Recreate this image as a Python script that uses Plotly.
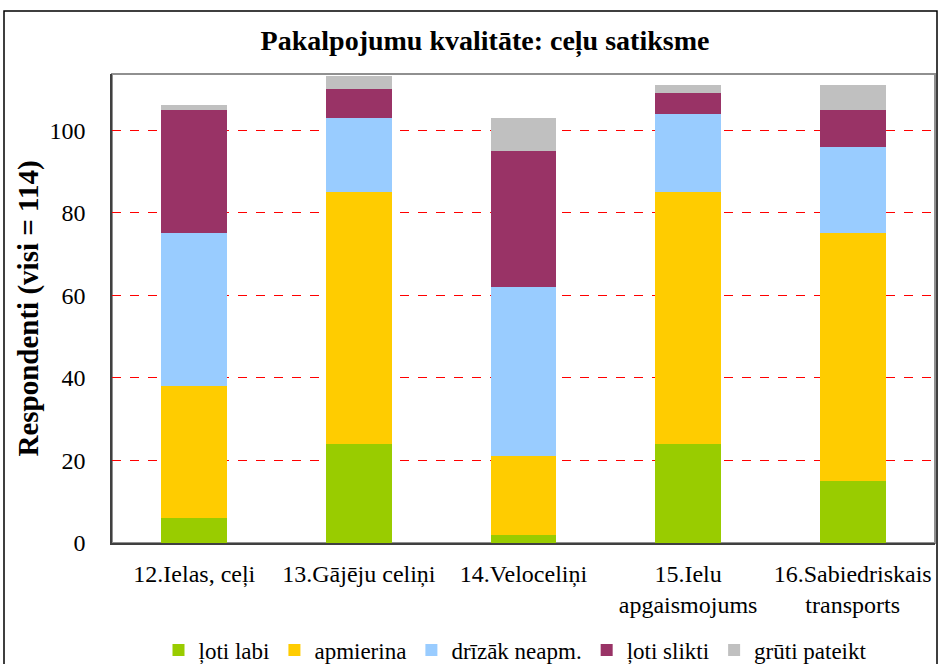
import plotly.graph_objects as go

categories = ["12.Ielas, ceļi", "13.Gājēju celiņi", "14.Veloceliņi",
              "15.Ielu<br>apgaismojums", "16.Sabiedriskais<br>transports"]
loti_labi = [6, 24, 2, 24, 15]
apmierina = [32, 61, 19, 61, 60]
drizak_neapm = [37, 18, 41, 19, 21]
loti_slikti = [30, 7, 33, 5, 9]
gruti_pateikt = [1, 3, 8, 2, 6]

series = [
    ("ļoti labi", loti_labi, "#99CC00"),
    ("apmierina", apmierina, "#FFCC00"),
    ("drīzāk neapm.", drizak_neapm, "#99CCFF"),
    ("ļoti slikti", loti_slikti, "#993366"),
    ("grūti pateikt", gruti_pateikt, "#C0C0C0"),
]

FONT = "Liberation Serif, Times New Roman, serif"

fig = go.Figure()
for name, vals, color in series:
    fig.add_trace(go.Bar(x=categories, y=vals, name=name,
                         marker=dict(color=color, line=dict(width=0)),
                         width=0.4))

L, R, T, B = 112, 3, 74, 121
W, H = 938, 664
pw = W - L - R
ph = H - T - B

def px_x(x):
    return (x - L) / pw

def px_y(y):
    return (H - B - y) / ph

fig.update_layout(
    width=W, height=H,
    margin=dict(l=L, r=R, t=T, b=B, autoexpand=False),
    barmode="stack",
    bargap=0.6,
    plot_bgcolor="white",
    paper_bgcolor="white",
    font=dict(family=FONT, size=24, color="black"),
    title=dict(text="<b>Pakalpojumu kvalitāte: ceļu satiksme</b>",
               xref="container", x=485 / W, xanchor="center",
               yref="container", y=1 - 40 / H, yanchor="middle",
               font=dict(family=FONT, size=28, color="black")),
    legend=dict(orientation="h", x=px_x(515), xanchor="center",
                y=px_y(650), yanchor="middle",
                font=dict(family=FONT, size=23, color="black"),
                itemwidth=30, tracegroupgap=0, traceorder="normal"),
    xaxis=dict(showline=True, linecolor="#404040", linewidth=1.5,
               tickfont=dict(family=FONT, size=24), ticks="",
               ticklabelstandoff=8, automargin=False,
               showgrid=False),
    yaxis=dict(range=[0, 113.6], tickvals=[0, 20, 40, 60, 80, 100],
               showgrid=True, gridcolor="#FF0000", griddash="dash", gridwidth=1,
               zeroline=False, showline=True, linecolor="#404040", linewidth=1.5,
               tickfont=dict(family=FONT, size=24), ticks="",
               ticklabelstandoff=20, automargin=False,
               title=dict(text="<b>Respondenti (visi = 114)</b>",
                          font=dict(family=FONT, size=29), standoff=2)),
    shapes=[
        dict(type="rect", xref="paper", yref="paper",
             x0=0, x1=1, y0=0, y1=1,
             line=dict(color="#909090", width=2), layer="below"),
        dict(type="rect", xref="paper", yref="paper",
             x0=px_x(4), x1=px_x(937), y0=px_y(670), y1=px_y(11),
             line=dict(color="black", width=1.5)),
    ],
)

fig.write_html("out.html",
               config={"displayModeBar": False},
               post_script="document.body.style.margin='0';document.body.style.overflow='hidden';")
